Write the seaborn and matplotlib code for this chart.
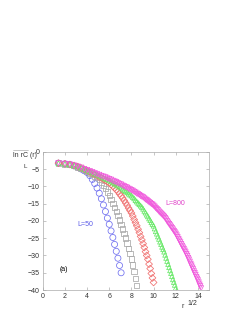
import numpy as np
import pandas as pd
import seaborn as sns
import matplotlib
matplotlib.use("Agg")
import matplotlib.pyplot as plt
from matplotlib.lines import Line2D

y_L50 = [-3.3, -3.5, -3.7, -4.1, -4.5, -5.0, -5.5, -6.0, -6.9, -8.0, -9.2, -10.5,
         -12.0, -13.6, -15.4, -17.3, -19.2, -21.0, -22.9, -24.8, -26.8, -28.8,
         -30.8, -32.9, -35.0]

y_gray = [-3.3, -3.5, -3.7, -4.0, -4.4, -4.8, -5.2, -5.7, -6.2, -6.6, -7.1, -7.5,
          -8.1, -8.9, -9.7, -10.6, -11.6, -12.6, -13.8, -14.9, -16.1, -17.3,
          -18.5, -19.7, -21.0, -22.3, -23.6, -25.0, -26.4, -27.9, -29.4, -31.0,
          -32.8, -34.7, -36.6, -38.6]

y_red = [-3.3, -3.5, -3.7, -4.0, -4.3, -4.7, -5.1, -5.5, -5.9, -6.2, -6.6, -6.9,
         -7.3, -7.6, -8.0, -8.3, -8.7, -9.0, -9.5, -10.0, -10.5, -11.0, -11.5,
         -12.2, -12.8, -13.4, -14.1, -14.8, -15.5, -16.3, -17.0, -17.7, -18.6,
         -19.6, -20.5, -21.4, -22.4, -23.4, -24.5, -25.5, -26.6, -27.7, -28.9,
         -30.0, -31.1, -32.5, -33.8, -35.2, -36.5, -37.8]

y_green = [-3.3, -3.5, -3.7, -4.0, -4.3, -4.6, -5.0, -5.4, -5.7, -6.0, -6.3, -6.6,
           -6.9, -7.2, -7.5, -7.8, -8.0, -8.3, -8.6, -8.9, -9.2, -9.5, -9.8,
           -10.1, -10.4, -10.7, -11.1, -11.4, -11.7, -12.1, -12.4, -12.7, -13.1,
           -13.5, -14.0, -14.4, -14.8, -15.2, -15.6, -16.0, -16.5, -17.1, -17.6,
           -18.2, -18.7, -19.3, -19.8, -20.4, -20.9, -21.4, -22.2, -23.0, -23.7,
           -24.5, -25.2, -26.0, -26.7, -27.5, -28.2, -28.9, -29.8, -30.7, -31.6,
           -32.5, -33.4, -34.3, -35.1, -36.0, -36.9, -37.7, -38.5, -39.4, -40.2]

y_L800 = [-3.3, -3.5, -3.7, -4.0, -4.3, -4.6, -5.0, -5.3, -5.6, -5.9, -6.2, -6.5,
          -6.7, -7.0, -7.2, -7.4, -7.7, -7.9, -8.1, -8.4, -8.6, -8.8, -9.1, -9.3,
          -9.5, -9.8, -10.0, -10.2, -10.4, -10.7, -10.9, -11.1, -11.3, -11.6,
          -11.8, -12.1, -12.3, -12.5, -12.8, -13.0, -13.2, -13.5, -13.8, -14.0,
          -14.3, -14.6, -14.8, -15.1, -15.3, -15.6, -15.9, -16.3, -16.6, -16.9,
          -17.3, -17.6, -17.9, -18.2, -18.5, -18.8, -19.2, -19.6, -20.1, -20.5,
          -20.9, -21.3, -21.7, -22.1, -22.5, -22.9, -23.3, -23.7, -24.2, -24.7,
          -25.2, -25.7, -26.2, -26.7, -27.2, -27.7, -28.1, -28.6, -29.1, -29.6,
          -30.1, -30.7, -31.2, -31.8, -32.4, -32.9, -33.5, -34.0, -34.6, -35.1,
          -35.6, -36.2, -36.7, -37.2, -37.8, -38.4, -38.9, -39.5]

series = [
    ("L50", y_L50, "#7070f0", "o", 19),
    ("gray", y_gray, "#a8a8a8", "s", 15),
    ("red", y_red, "#f07070", "D", 12),
    ("green", y_green, "#66e866", "^", 12),
    ("L800", y_L800, "#f058dc", "v", 14),
]

sns.set_style("ticks")
plt.rcParams["font.family"] = ["Liberation Sans", "DejaVu Sans"]

fig = plt.figure(figsize=(2.53, 3.27), dpi=100)
ax = fig.add_axes([0.169, 0.113, 0.657, 0.423])

for name, y, col, mk, size in series:
    r = 2 * (np.arange(len(y)) + 1)
    df = pd.DataFrame({"x": np.sqrt(r), "y": y})
    sns.scatterplot(data=df, x="x", y="y", ax=ax, marker=mk, s=size,
                    facecolor="none", edgecolor=col, linewidth=0.55)

ax.set_xlim(0, 15)
ax.set_ylim(-40, 0)
ax.set_xticks(range(0, 15, 2))
ax.set_yticks(range(-40, 1, 5))
ax.set_xlabel("")
ax.set_ylabel("")
ax.tick_params(direction="in", length=2, width=0.4, labelsize=5, pad=2,
               top=True, right=True, color="#999999", labelcolor="#333333")
for sp in ax.spines.values():
    sp.set_color("#aaaaaa")
    sp.set_linewidth(0.5)

ax.text(3.1, -20.9, "L=50", color="#5a5ae8", fontsize=5, va="center")
ax.text(11.1, -14.9, "L=800", color="#e040c8", fontsize=5, va="center")
ax.text(1.5, -34.2, "(a)", color="black", fontsize=5, va="center")

# y label with subscript, x label with superscript
fig.text(0.052, 0.523, "ln rC (r)", fontsize=5, color="#333333", va="center")
fig.text(0.094, 0.491, "L", fontsize=4.5, color="#333333", va="center")
fig.add_artist(Line2D([0.052, 0.112], [0.541, 0.541], color="#999999", lw=0.4))
fig.text(0.718, 0.062, "r", fontsize=5, color="#333333", va="center")
fig.text(0.742, 0.073, "1/2", fontsize=5, color="#333333", va="center")

fig.savefig("out.png", dpi=100)
